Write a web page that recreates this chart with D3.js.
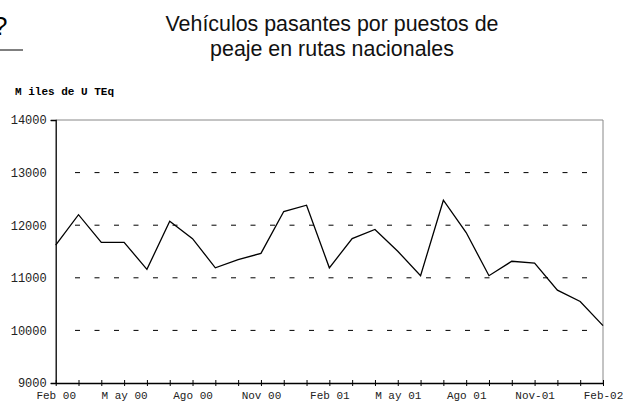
<!DOCTYPE html>
<html>
<head>
<meta charset="utf-8">
<script src="https://cdn.jsdelivr.net/npm/d3@7"></script>
<style>
  body { margin: 0; background: #fff; }
  svg { display: block; }
</style>
</head>
<body>
<div id="chart"></div>
<script>
// monthly data, Feb 2000 - Feb 2002 (miles de UTEq)
var months = ["Feb00","Mar00","Abr00","May00","Jun00","Jul00","Ago00","Sep00","Oct00","Nov00","Dic00","Ene01",
              "Feb01","Mar01","Abr01","May01","Jun01","Jul01","Ago01","Sep01","Oct01","Nov01","Dic01","Ene02","Feb02"];
var vehiculos = [11620, 12200, 11675, 11675, 11160, 12075, 11745, 11190, 11345, 11465, 12260, 12380,
                 11190, 11745, 11920, 11505, 11040, 12475, 11860, 11040, 11315, 11280, 10765, 10550, 10090];
// tick labels every 3 months, as printed
var xTickMonths = ["Feb00","May00","Ago00","Nov00","Feb01","May01","Ago01","Nov01","Feb02"];
var xTickLabels = ["Feb 00","M ay 00","Ago 00","Nov 00","Feb 01","M ay 01","Ago 01","Nov-01","Feb-02"];
var yTicks = [9000, 10000, 11000, 12000, 13000, 14000];
var yGrid = [10000, 11000, 12000, 13000];

var W = 623, H = 403;
var margin = { top: 120, right: 20, bottom: 20, left: 55.7 };

var svg = d3.select("#chart").append("svg")
    .attr("width", W).attr("height", H);

var x = d3.scalePoint()
    .domain(months)
    .range([margin.left, W - margin.right]);

var y = d3.scaleLinear()
    .domain([9000, 14000])
    .range([H - margin.bottom, margin.top]);

var mono = "'Courier New', 'Liberation Mono', monospace";

// cropped fragment at top left
svg.append("text")
    .attr("x", -7).attr("y", 35)
    .style("font-family", "Arial, 'Liberation Sans', sans-serif")
    .style("font-size", "26px")
    .text("?");
svg.append("line")
    .attr("x1", 0).attr("x2", 23)
    .attr("y1", 50).attr("y2", 50)
    .attr("stroke", "#000").attr("stroke-width", 1);

// title
var title = svg.append("text")
    .attr("text-anchor", "middle")
    .style("font-family", "Arial, 'Liberation Sans', sans-serif")
    .style("font-size", "21.4px")
    .attr("fill", "#111");
title.append("tspan").attr("x", 332).attr("y", 31).text("Vehículos pasantes por puestos de");
title.append("tspan").attr("x", 332).attr("y", 56).text("peaje en rutas nacionales");

// y axis title
svg.append("text")
    .attr("x", 15).attr("y", 95)
    .style("font-family", mono)
    .style("font-size", "11px")
    .style("font-weight", "bold")
    .text("M iles de U TEq");

// frame: top and right in grey
svg.append("line")
    .attr("x1", x.range()[0]).attr("x2", x.range()[1])
    .attr("y1", y(14000)).attr("y2", y(14000))
    .attr("stroke", "#888").attr("stroke-width", 1);
svg.append("line")
    .attr("x1", x.range()[1]).attr("x2", x.range()[1])
    .attr("y1", y(14000)).attr("y2", y(9000))
    .attr("stroke", "#888").attr("stroke-width", 1);

// dashed gridlines (first dash sits ~19px right of the axis)
svg.selectAll(".grid")
    .data(yGrid)
    .enter().append("line")
    .attr("class", "grid")
    .attr("x1", x.range()[0] + 19.3).attr("x2", x.range()[1] - 15)
    .attr("y1", function(d) { return y(d); })
    .attr("y2", function(d) { return y(d); })
    .attr("stroke", "#000").attr("stroke-width", 1)
    .attr("stroke-dasharray", "5,14.5");

// y axis
var yAxis = svg.append("g")
    .attr("transform", "translate(" + margin.left + ",0)")
    .call(d3.axisLeft(y).tickValues(yTicks).tickSize(5).tickPadding(4).tickFormat(d3.format("d")));
yAxis.select(".domain").attr("stroke", "#000").attr("stroke-width", 1.3);
yAxis.selectAll(".tick line").attr("stroke", "#000")
    .style("display", function(d) { return (d === 9000 || d === 14000) ? null : "none"; });
yAxis.selectAll("text")
    .style("font-family", mono)
    .style("font-size", "12px")
    .attr("fill", "#222");

// x axis: a tick every month crossing the axis line
var xAxis = svg.append("g")
    .attr("transform", "translate(0," + y(9000) + ")")
    .call(d3.axisBottom(x).tickSizeInner(3).tickSizeOuter(0).tickPadding(5)
        .tickFormat(function(d) {
            var i = xTickMonths.indexOf(d);
            return i >= 0 ? xTickLabels[i] : "";
        }));
xAxis.select(".domain").attr("stroke", "#000").attr("stroke-width", 1.3);
xAxis.selectAll(".tick line").attr("stroke", "#000").attr("y1", -3);
xAxis.selectAll("text")
    .style("font-family", mono)
    .style("font-size", "11px")
    .attr("fill", "#222");

// series
svg.append("path")
    .datum(vehiculos)
    .attr("fill", "none")
    .attr("stroke", "#000")
    .attr("stroke-width", 1.3)
    .attr("stroke-linejoin", "miter")
    .attr("d", d3.line()
        .x(function(d, i) { return x(months[i]); })
        .y(function(d) { return y(d); }));
</script>
</body>
</html>
